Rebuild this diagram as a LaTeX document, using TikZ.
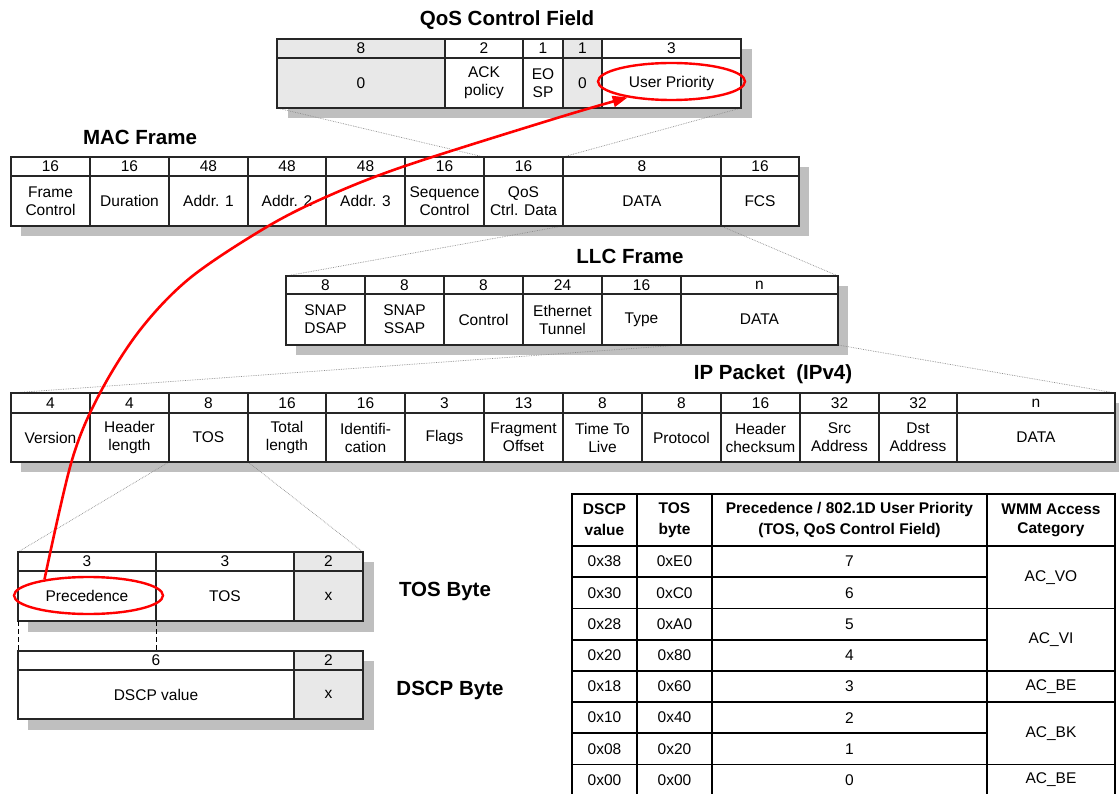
\documentclass[tikz,border=0pt]{standalone}
\usepackage{fontspec}
\setmainfont{Liberation Sans}
\usetikzlibrary{shapes.geometric,arrows.meta}
\pgfdeclarelayer{bg}
\pgfsetlayers{bg,main}
\newcommand\fsz{\fontsize{15.5pt}{18pt}\selectfont}
\newcommand\ttlf{\fontsize{20.5pt}{24pt}\selectfont\bfseries}
\newcommand\thf{\fontsize{15.5pt}{21pt}\selectfont\bfseries}
\tikzset{
  fcellbox/.style={draw=black!85, line width=1.3pt, inner sep=0pt, outer sep=0pt,
    anchor=north west, align=center, font=\fsz, fill=#1},
  fcellbox/.default=white,
  shadowc/.style={fill=black!25},
  proj/.style={draw=black!45, line width=0.7pt, densely dotted},
  titlenode/.style={font=\ttlf, inner sep=0pt},
  tcell/.style={draw=black, line width=1.8pt, inner sep=0pt, outer sep=0pt,
    anchor=north west, align=center, font=\fsz},
  redmark/.style={draw=red, line width=2.4pt, ellipse, inner sep=0pt},
  redarr/.style={draw=red, line width=2.6pt, -{Triangle[length=15pt,width=11pt]}},
  dashlink/.style={draw=black, line width=1pt, dash pattern=on 5pt off 3pt},
}
% name, x1, x2, ytop, ymid, ybot, header, body, fill
\newcommand\fc[9]{%
  \node[fcellbox=#9, minimum width={(#3-#2)*1pt}, minimum height={(#5-#4)*1pt}] (#1h) at (#2,#4) {#7};
  \node[fcellbox=#9, minimum width={(#3-#2)*1pt}, minimum height={(#6-#5)*1pt}] (#1b) at (#2,#5) {#8};
}
\begin{document}
\begin{tikzpicture}[x=1pt,y=-1pt]
\useasboundingbox (0,0) rectangle (1119,794);
\clip (0,0) rectangle (1119,794);

% ---------- titles
\node[titlenode] (tq) at (507,20) {QoS Control Field};
\node[titlenode] (tm) at (140,137) {MAC Frame};
\node[titlenode] (tl) at (630,256) {LLC Frame};
\node[titlenode] (ti) at (773,374) {IP Packet\ \ (IPv4)};
\node[titlenode] (tt) at (445,591) {TOS Byte};
\node[titlenode] (td) at (450,690) {DSCP Byte};

% ---------- QoS control field
\fc{q1}{277}{445}{39}{58}{108}{8}{0}{gray!18}
\fc{q2}{445}{523}{39}{58}{108}{2}{ACK\\policy}{white}
\fc{q3}{523}{563}{39}{58}{108}{1}{EO\\SP}{white}
\fc{q4}{563}{602}{39}{58}{108}{1}{0}{gray!18}
\fc{q5}{602}{741}{39}{58}{108}{3}{User Priority}{white}

% ---------- MAC frame
\fc{m1}{11}{90}{157}{176}{226}{16}{Frame\\Control}{white}
\fc{m2}{90}{169}{157}{176}{226}{16}{Duration}{white}
\fc{m3}{169}{248}{157}{176}{226}{48}{Addr. 1}{white}
\fc{m4}{248}{326}{157}{176}{226}{48}{Addr. 2}{white}
\fc{m5}{326}{405}{157}{176}{226}{48}{Addr. 3}{white}
\fc{m6}{405}{484}{157}{176}{226}{16}{Sequence\\Control}{white}
\fc{m7}{484}{563}{157}{176}{226}{16}{QoS\\Ctrl. Data}{white}
\fc{m8}{563}{721}{157}{176}{226}{8}{DATA}{white}
\fc{m9}{721}{799}{157}{176}{226}{16}{FCS}{white}

% ---------- LLC frame
\fc{l1}{286}{365}{276}{294}{345}{8}{SNAP\\DSAP}{white}
\fc{l2}{365}{444}{276}{294}{345}{8}{SNAP\\SSAP}{white}
\fc{l3}{444}{523}{276}{294}{345}{8}{Control}{white}
\fc{l4}{523}{602}{276}{294}{345}{24}{Ethernet\\Tunnel}{white}
\fc{l5}{602}{681}{276}{294}{345}{16}{Type}{white}
\fc{l6}{681}{838}{276}{294}{345}{n}{DATA}{white}

% ---------- IP packet
\fc{i1}{11}{90}{393}{413}{462}{4}{Version}{white}
\fc{i2}{90}{169}{393}{413}{462}{4}{Header\\length}{white}
\fc{i3}{169}{248}{393}{413}{462}{8}{TOS}{white}
\fc{i4}{248}{326}{393}{413}{462}{16}{Total\\length}{white}
\fc{i5}{326}{405}{393}{413}{462}{16}{Identifi-\\cation}{white}
\fc{i6}{405}{484}{393}{413}{462}{3}{Flags}{white}
\fc{i7}{484}{563}{393}{413}{462}{13}{Fragment\\Offset}{white}
\fc{i8}{563}{642}{393}{413}{462}{8}{Time To\\Live}{white}
\fc{i9}{642}{721}{393}{413}{462}{8}{Protocol}{white}
\fc{iA}{721}{800}{393}{413}{462}{16}{Header\\checksum}{white}
\fc{iB}{800}{879}{393}{413}{462}{32}{Src\\Address}{white}
\fc{iC}{879}{957}{393}{413}{462}{32}{Dst\\Address}{white}
\fc{iD}{957}{1115}{393}{413}{462}{n}{DATA}{white}

% ---------- TOS byte and DSCP byte
\fc{t1}{18}{156}{552}{571}{621}{3}{Precedence}{white}
\fc{t2}{156}{294}{552}{571}{621}{3}{TOS}{white}
\fc{t3}{294}{363}{552}{571}{621}{2}{x}{gray!18}
\fc{d1}{18}{294}{651}{670}{719}{6}{DSCP value}{white}
\fc{d2}{294}{363}{651}{670}{719}{2}{x}{gray!18}

% ---------- shadows and projection lines
\begin{pgfonlayer}{bg}
  \fill[shadowc] ([shift={(11,10)}]q1h.north west) rectangle ([shift={(11,10)}]q5b.south east);
  \fill[shadowc] ([shift={(10,10)}]m1h.north west) rectangle ([shift={(10,10)}]m9b.south east);
  \fill[shadowc] ([shift={(10,10)}]l1h.north west) rectangle ([shift={(10,10)}]l6b.south east);
  \fill[shadowc] ([shift={(10,10)}]i1h.north west) rectangle ([shift={(10,10)}]iDb.south east);
  \fill[shadowc] ([shift={(10,10)}]t1h.north west) rectangle ([shift={(11,11)}]t3b.south east);
  \fill[shadowc] ([shift={(10,10)}]d1h.north west) rectangle ([shift={(11,11)}]d2b.south east);
  \draw[proj] (q1b.south west) -- (m7h.north west);
  \draw[proj] (q5b.south east) -- (m7h.north east);
  \draw[proj] (m8b.south west) -- (l1h.north west);
  \draw[proj] (m8b.south east) -- (l6h.north east);
  \draw[proj] (l6b.south west) -- (i1h.north west);
  \draw[proj] (l6b.south east) -- (iDh.north east);
  \draw[proj] (i3b.south west) -- (t1h.north west);
  \draw[proj] (i3b.south east) -- (t3h.north east);
\end{pgfonlayer}

\draw[dashlink] (t1b.south west) -- (d1h.north west);
\draw[dashlink] (t1b.south east) -- (t1b.south east |- d1h.north);

% ---------- table
\node[tcell, font=\thf, minimum width=65pt, minimum height=52pt] (th1) at (572,494) {DSCP\\value};
\node[tcell, font=\thf, minimum width=75pt, minimum height=52pt] (th2) at (637,494) {TOS\\byte};
\node[tcell, font=\thf, minimum width=275pt, minimum height=52pt] (th3) at (712,494) {Precedence / 802.1D User Priority\\(TOS, QoS Control Field)};
\node[tcell, font=\fontsize{15.5pt}{19pt}\selectfont\bfseries, minimum width=128pt, minimum height=52pt] (th4) at (987,494) {WMM Access\\Category};
\foreach \pv/\dv/\tv [count=\k from 0] in {7/0x38/0xE0, 6/0x30/0xC0, 5/0x28/0xA0, 4/0x20/0x80, 3/0x18/0x60, 2/0x10/0x40, 1/0x08/0x20, 0/0x00/0x00}{
  \node[tcell, minimum width=65pt, minimum height=31.2pt] (rd\pv) at (572,{546+31.2*\k}) {\dv};
  \node[tcell, minimum width=75pt, minimum height=31.2pt] (rt\pv) at (637,{546+31.2*\k}) {\tv};
  \node[tcell, minimum width=275pt, minimum height=31.2pt] (rp\pv) at (712,{546+31.2*\k}) {\pv};
}
\node[tcell, minimum width=128pt, minimum height=62.4pt] (cVO) at (987,546) {AC\_VO};
\node[tcell, minimum width=128pt, minimum height=62.4pt] (cVI) at (987,608.4) {AC\_VI};
\node[tcell, minimum width=128pt, minimum height=31.2pt] (cBEa) at (987,670.8) {AC\_BE};
\node[tcell, minimum width=128pt, minimum height=62.4pt] (cBK) at (987,702) {AC\_BK};
\node[tcell, minimum width=128pt, minimum height=31.2pt] (cBEb) at (987,764.4) {AC\_BE};

% ---------- red marks
\node[redmark, minimum width=149pt, minimum height=37pt] (precE) at (88.5,595.5) {};
\node[redmark, minimum width=147pt, minimum height=37pt] (upE) at (671.5,81.5) {};
\draw[redarr] plot[smooth, tension=0.55] coordinates {(precE.160) (72,460) (100,393) (140,330) (190,278) (265,228) (326,197) (405,166) (557,118) (upE.200)};
\end{tikzpicture}
\end{document}
